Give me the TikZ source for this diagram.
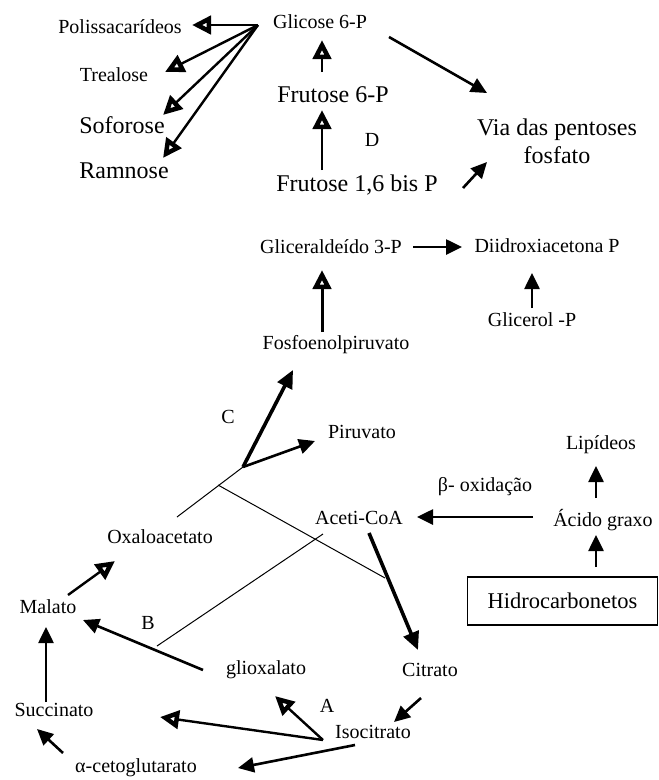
\documentclass[tikz,border=0pt]{standalone}
\usepackage{fontspec}
\setmainfont{Liberation Serif}
\usetikzlibrary{arrows.meta}
\tikzset{
  lbl/.style={font=\fontsize{20}{24}\selectfont, inner sep=0pt},
  big/.style={font=\fontsize{24}{28}\selectfont, inner sep=0pt},
  arr/.style={line width=2.6pt, -{Triangle[length=16pt,width=15pt]}},
  oarr/.style={line width=2.4pt, -{Triangle[open,length=19pt,width=18pt,line width=4.5pt]}},
  barr/.style={line width=3.6pt, -{Triangle[length=18pt,width=16pt]}},
  thinl/.style={line width=1pt},
}
\begin{document}
\begin{tikzpicture}[x=1pt,y=-1pt]
\useasboundingbox (0,0) rectangle (659,780);
% nodes
\node[lbl] (g6p) at (320,22) {Glicose 6-P};
\node[lbl] (pol) at (120,27) {Polissacarídeos};
\node[lbl] (tre) at (114,75) {Trealose};
\node[big] (sof) at (122,125) {Soforose};
\node[big] (ram) at (124,171) {Ramnose};
\node[big] (f6p) at (333,95) {Frutose 6-P};
\node[lbl] (D) at (372,140) {D};
\node[big] (f16) at (357,185) {Frutose 1,6 bis P};
\node[big, align=center] (via) at (557,141) {Via das pentoses\\fosfato};
\node[lbl] (gli3p) at (331,247) {Gliceraldeído 3-P};
\node[lbl] (dhap) at (547,246) {Diidroxiacetona P};
\node[lbl] (glp) at (532,320) {Glicerol -P};
\node[lbl] (pep) at (336,345) {Fosfoenolpiruvato};
\node[lbl] (C) at (228,417) {C};
\node[lbl] (pir) at (362,432) {Piruvato};
\node[lbl] (lip) at (601,445) {Lipídeos};
\node[lbl] (beta) at (485,487) {β- oxidação};
\node[lbl] (acg) at (603,520) {Ácido graxo};
\node[lbl] (acoa) at (359,518) {Aceti-CoA};
\node[lbl] (oxa) at (160,537) {Oxaloacetato};
\node[draw, line width=1.3pt, minimum width=190pt, minimum height=48pt, inner sep=0pt,
      font=\fontsize{22.5}{26}\selectfont] (hc) at (562.5,601) {Hidrocarbonetos};
\node[lbl] (mal) at (48,607) {Malato};
\node[lbl] (B) at (148,623) {B};
\node[lbl] (glx) at (266,670) {glioxalato};
\node[lbl] (cit) at (430,670) {Citrato};
\node[lbl] (A) at (327,706) {A};
\node[lbl] (suc) at (54,710) {Succinato};
\node[lbl] (iso) at (373,732) {Isocitrato};
\node[lbl] (akg) at (136,768) {α-cetoglutarato};
% connector end points
\coordinate (hub) at (258,25);
\coordinate (polT) at (192,25);
\coordinate (treT) at (165,72);
\coordinate (sofT) at (163,115);
\coordinate (ramT) at (163,158);
\coordinate (f6pS) at (322,72);
\coordinate (g6pT) at (322,40);
\coordinate (f16S) at (322,170);
\coordinate (f6pT) at (322,110);
\coordinate (g6pS) at (389,37);
\coordinate (viaT1) at (487,93);
\coordinate (f16E) at (463,188);
\coordinate (viaT2) at (487,162);
\coordinate (gli3pS) at (413,247);
\coordinate (dhapT) at (462,247);
\coordinate (glpS) at (532,308);
\coordinate (dhapT2) at (532,273);
\coordinate (pepS) at (322,332);
\coordinate (gli3pT) at (322,270);
\coordinate (J) at (243,467);
\coordinate (pepT) at (293,370);
\coordinate (pirT) at (315,441);
\coordinate (oxaE) at (177,517);
\coordinate (K) at (218,485);
\coordinate (Kend) at (385,578);
\coordinate (L) at (157,646);
\coordinate (Lend) at (323,534);
\coordinate (acgS) at (533,517);
\coordinate (acoaT) at (417,517);
\coordinate (acgS2) at (596,498);
\coordinate (lipT) at (596,466);
\coordinate (hcS) at (596,567);
\coordinate (acgT) at (596,535);
\coordinate (acoaS) at (369,533);
\coordinate (citT) at (418,650);
\coordinate (citS) at (421,698);
\coordinate (isoT) at (394,722);
\coordinate (I) at (323,740);
\coordinate (glxT) at (275,696);
\coordinate (sucT2) at (160,717);
\coordinate (isoS2) at (355,745);
\coordinate (akgT) at (238,768);
\coordinate (glxS) at (203,670);
\coordinate (malT) at (83,620);
\coordinate (sucS) at (46,702);
\coordinate (malT2) at (46,627);
\coordinate (akgS) at (63,753);
\coordinate (sucT) at (37,729);
\coordinate (malS) at (68,595);
\coordinate (oxaT) at (115,561);
% connectors
\draw[oarr] (hub) -- (polT);
\draw[oarr] (hub) -- (treT);
\draw[oarr] (hub) -- (sofT);
\draw[oarr] (hub) -- (ramT);
\draw[oarr] (f6pS) -- (g6pT);
\draw[oarr] (f16S) -- (f6pT);
\draw[arr] (g6pS) -- (viaT1);
\draw[arr] (f16E) -- (viaT2);
\draw[arr] (gli3pS) -- (dhapT);
\draw[arr] (glpS) -- (dhapT2);
\draw[oarr, line width=3pt] (pepS) -- (gli3pT);
\draw[barr] (J) -- (pepT);
\draw[arr] (J) -- (pirT);
\draw[thinl] (J) -- (oxaE);
\draw[thinl] (K) -- (Kend);
\draw[thinl] (L) -- (Lend);
\draw[arr] (acgS) -- (acoaT);
\draw[arr] (acgS2) -- (lipT);
\draw[arr] (hcS) -- (acgT);
\draw[barr] (acoaS) -- (citT);
\draw[arr] (citS) -- (isoT);
\draw[oarr] (I) -- (glxT);
\draw[oarr] (I) -- (sucT2);
\draw[arr] (isoS2) -- (akgT);
\draw[arr] (glxS) -- (malT);
\draw[arr] (sucS) -- (malT2);
\draw[arr] (akgS) -- (sucT);
\draw[oarr] (malS) -- (oxaT);
\end{tikzpicture}
\end{document}
